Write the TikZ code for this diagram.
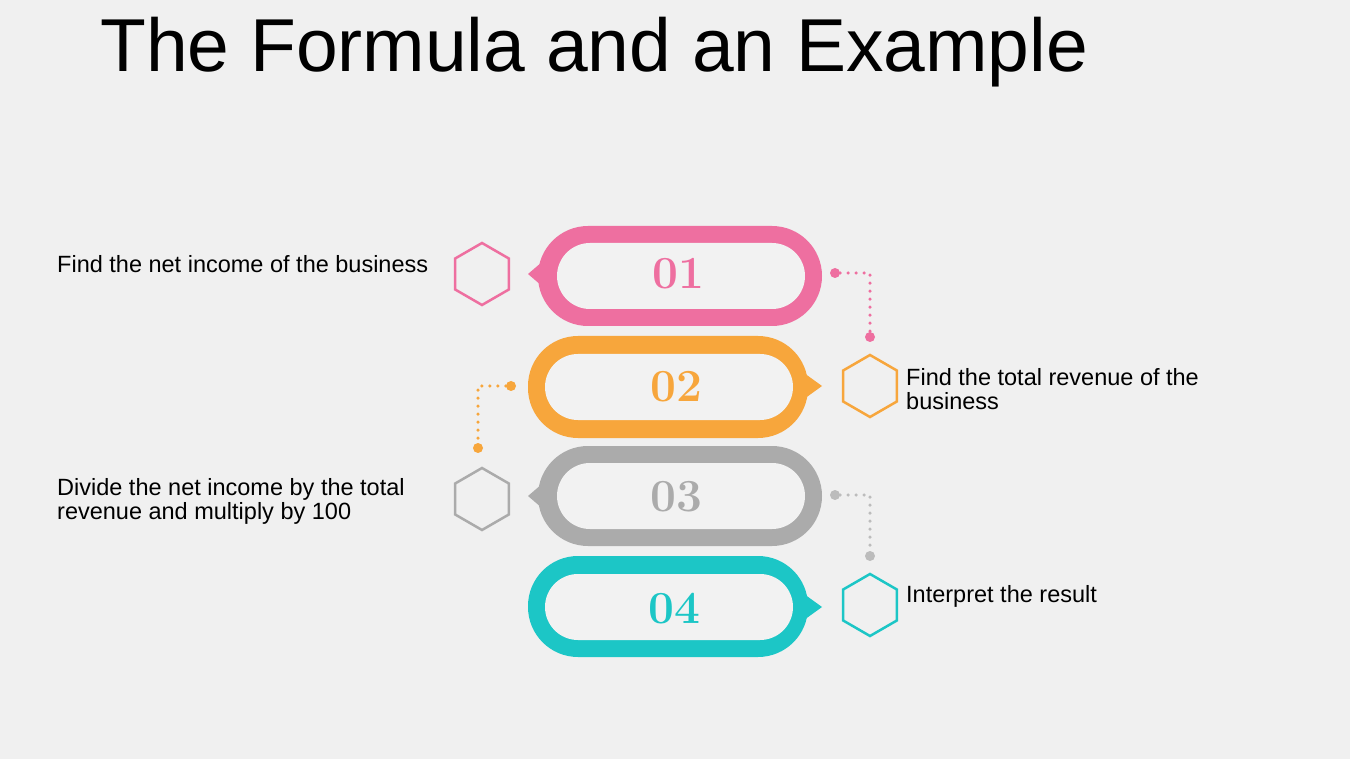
\documentclass[tikz,border=0pt]{standalone}
\usepackage{fontspec}
\setmainfont{Liberation Sans}
\newfontfamily\numfont{Latin Modern Roman}
\usetikzlibrary{shapes.geometric}
\definecolor{cpink}{HTML}{EE6FA0}
\definecolor{corange}{HTML}{F7A63C}
\definecolor{cgrey}{HTML}{ABABAB}
\definecolor{cteal}{HTML}{1CC6C6}
\definecolor{bg}{HTML}{F0F0F0}
\definecolor{inner}{HTML}{F2F2F2}
\tikzset{
 lbl/.style={anchor=west,font=\fontsize{23.5}{24}\selectfont,align=left,text=black,inner sep=0},
 hexa/.style={regular polygon,regular polygon sides=6,shape border rotate=30,minimum size=62pt,draw=#1,line width=2.5pt,inner sep=0},
 num/.style={font=\numfont\bfseries\fontsize{46}{46}\selectfont,text=#1},
 dotl/.style={draw=#1,line width=3.5pt,dash pattern=on 0pt off 8pt,line cap=round},
 bigdot/.style={circle,fill=#1,minimum size=10pt,inner sep=0}
}
\begin{document}
\begin{tikzpicture}[x=1pt,y=-1pt]
\fill[bg] (0,0) rectangle (1350,759);
\useasboundingbox (0,0) rectangle (1350,759);
\node[anchor=base west,font=\fontsize{75}{75}\selectfont,inner sep=0] (title) at (100,72) {The Formula and an Example};
% pills
\fill[cpink,rounded corners=50] (538,226) rectangle (822,326);
\fill[cpink] (542,262) -- (528,274) -- (542,286) -- cycle;
\fill[inner,rounded corners=33] (557,243) rectangle (805,309);
\node[num=cpink] (n1) at (678,274) {01};
\fill[corange,rounded corners=50] (528,336) rectangle (808,438);
\fill[corange] (804,373) -- (822,386) -- (804,399) -- cycle;
\fill[inner,rounded corners=33] (545,354) rectangle (793,420);
\node[num=corange] (n2) at (676,387) {02};
\fill[cgrey,rounded corners=50] (538,446) rectangle (822,546);
\fill[cgrey] (542,484) -- (528,496) -- (542,508) -- cycle;
\fill[inner,rounded corners=33] (557,463) rectangle (805,529);
\node[num=cgrey] (n3) at (676,497) {03};
\fill[cteal,rounded corners=50] (528,556) rectangle (808,657);
\fill[cteal] (804,594) -- (822,607) -- (804,620) -- cycle;
\fill[inner,rounded corners=33] (545,574) rectangle (793,640);
\node[num=cteal] (n4) at (674,609) {04};
% hexagons
\node[hexa=cpink] (h1) at (482,274) {};
\node[hexa=corange] (h2) at (870,386) {};
\node[hexa=cgrey] (h3) at (482,499) {};
\node[hexa=cteal] (h4) at (870,605) {};
% dotted connectors
\node[bigdot=cpink] (d1a) at (835,273) {};
\coordinate (c1) at (870,273);
\node[bigdot=cpink] (d1b) at (870,337) {};
\draw[dotl=cpink] (d1a) -- (c1) -- (d1b);
\node[bigdot=corange] (d2a) at (511,386) {};
\coordinate (c2) at (478,386);
\node[bigdot=corange] (d2b) at (478,448) {};
\draw[dotl=corange] (d2a) -- (c2) -- (d2b);
\node[bigdot=cgrey!80] (d3a) at (835,495) {};
\coordinate (c3) at (870,495);
\node[bigdot=cgrey!80] (d3b) at (870,556) {};
\draw[dotl=cgrey!80] (d3a) -- (c3) -- (d3b);
% labels
\node[lbl] (l1) at (57,264) {Find the net income of the business};
\node[lbl] (l2) at (906,389) {Find the total revenue of the\\business};
\node[lbl] (l3) at (57,501) {Divide the net income by the total\\revenue and multiply by 100};
\node[lbl] (l4) at (906,596) {Interpret the result};
\end{tikzpicture}
\end{document}
